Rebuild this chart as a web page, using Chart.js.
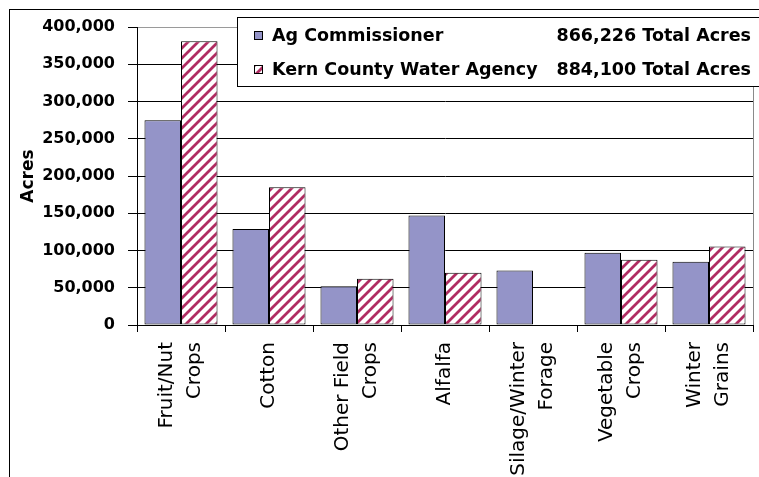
<!DOCTYPE html>
<html>
<head>
<meta charset="utf-8">
<script src="https://cdn.jsdelivr.net/npm/chart.js@4/dist/chart.umd.min.js"></script>
<style>
html,body{margin:0;padding:0;background:#fff;}
canvas{display:block;}
</style>
</head>
<body>
<canvas id="c" width="759" height="477"></canvas>
<script>
// ---- data ----
const categories = [
  ['Fruit/Nut', 'Crops'],
  'Cotton',
  ['Other Field', 'Crops'],
  'Alfalfa',
  ['Silage/Winter', 'Forage'],
  ['Vegetable', 'Crops'],
  ['Winter', 'Grains']
];
const seriesNames = ['Ag Commissioner', 'Kern County Water Agency'];
const agCommissioner = [275000, 129000, 52000, 147000, 73000, 97000, 85000];
const kernCountyWaterAgency = [381000, 185000, 62000, 70000, null, 87500, 105500];
const seriesTotals = ['866,226 Total Acres', '884,100 Total Acres'];
const yMin = 0, yMax = 400000, yStep = 50000;
const yTitle = 'Acres';

// ---- styles ----
const agColor = '#9494c8';
const hatchColor = '#b02c62';
const canvas = document.getElementById('c');
const ctx = canvas.getContext('2d');

function makeHatch() {
  const s = 10;
  const t = document.createElement('canvas');
  t.width = s; t.height = s;
  const g = t.getContext('2d');
  g.fillStyle = '#fff';
  g.fillRect(0, 0, s, s);
  g.strokeStyle = hatchColor;
  g.lineWidth = 2.8;
  g.beginPath();
  g.moveTo(-2, s + 2); g.lineTo(s + 2, -2);
  g.moveTo(-2, 2); g.lineTo(2, -2);
  g.moveTo(s - 2, s + 2); g.lineTo(s + 2, s - 2);
  g.stroke();
  return ctx.createPattern(t, 'repeat');
}
const hatch = makeHatch();

// centre multi-line rotated category labels on their tick
const centerMultiLine = {
  id: 'centerMultiLine',
  beforeDraw(chart) {
    const sc = chart.scales.x;
    const items = sc.getLabelItems();
    items.forEach((it) => {
      if (Array.isArray(it.label) && !it._shifted) {
        it.options.translation[0] -= (it.label.length - 1) * it.font.lineHeight / 2;
        it._shifted = true;
      }
    });
  }
};

const frameAndLegend = {
  id: 'frameAndLegend',
  afterDraw(chart) {
    const c = chart.ctx;
    c.save();
    c.strokeStyle = '#000';
    c.lineWidth = 1;
    // outer frame
    c.strokeRect(9.5, 9.5, 820, 520);
    // legend box
    c.fillStyle = '#fff';
    c.fillRect(237.5, 17.5, 560, 69);
    c.strokeRect(237.5, 17.5, 560, 69);
    const fills = [agColor, hatch];
    const rowsY = [35, 69];
    c.font = 'bold 17.5px "DejaVu Sans"';
    c.textBaseline = 'middle';
    for (let i = 0; i < seriesNames.length; i++) {
      const y = rowsY[i];
      c.fillStyle = fills[i];
      c.fillRect(254, y - 4, 8, 8);
      c.strokeStyle = '#000';
      c.strokeRect(254.5, y - 3.5, 8, 8);
      c.fillStyle = '#000';
      c.textAlign = 'left';
      c.fillText(seriesNames[i], 272, y + 1);
      c.textAlign = 'right';
      c.fillText(seriesTotals[i], 751, y + 1);
    }
    c.restore();
  }
};

new Chart(ctx, {
  type: 'bar',
  data: {
    labels: categories,
    datasets: [
      {
        label: seriesNames[0],
        data: agCommissioner,
        backgroundColor: agColor,
        borderColor: '#000',
        borderWidth: 1,
        borderSkipped: false,
        categoryPercentage: 0.83,
        barPercentage: 1.0
      },
      {
        label: seriesNames[1],
        data: kernCountyWaterAgency,
        backgroundColor: hatch,
        borderColor: '#000',
        borderWidth: 1,
        borderSkipped: false,
        categoryPercentage: 0.83,
        barPercentage: 1.0
      }
    ]
  },
  options: {
    responsive: false,
    animation: false,
    devicePixelRatio: 1,
    layout: { padding: { left: 0, top: 27, right: 6, bottom: 0 } },
    plugins: {
      legend: { display: false },
      tooltip: { enabled: false }
    },
    scales: {
      x: {
        grid: {
          offset: true,
          drawOnChartArea: true,
          color: (c) => (c.type === 'scale' ? '#8a8a8a' : 'rgba(0,0,0,0)'),
          tickColor: '#000',
          tickLength: 7,
          lineWidth: 1
        },
        border: { color: '#000', width: 1 },
        ticks: {
          color: '#000',
          font: { family: 'DejaVu Sans', size: 20, lineHeight: 1.4 },
          minRotation: 90,
          maxRotation: 90,
          padding: 10,
          autoSkip: false
        },
        afterFit(s) { s.height = 152; s.paddingLeft = 0; s.paddingRight = 0; }
      },
      y: {
        min: yMin,
        max: yMax,
        ticks: {
          stepSize: yStep,
          color: '#000',
          padding: 13,
          font: { family: 'DejaVu Sans', size: 16, weight: 'bold' },
          callback: (v) => v.toLocaleString('en-US')
        },
        grid: {
          color: (c) => (c.tick && c.tick.value === yMax ? '#9a9a9a' : '#000'),
          tickColor: '#000',
          tickLength: 9,
          lineWidth: 1
        },
        border: { color: '#000', width: 1 },
        title: {
          display: true,
          text: yTitle,
          color: '#000',
          font: { family: 'DejaVu Sans', size: 17, weight: 'bold' },
          padding: { top: 18, bottom: 0 }
        },
        afterFit(s) { s.width = 137; s.paddingTop = 0; s.paddingBottom = 0; }
      }
    }
  },
  plugins: [centerMultiLine, frameAndLegend]
});
</script>
</body>
</html>
